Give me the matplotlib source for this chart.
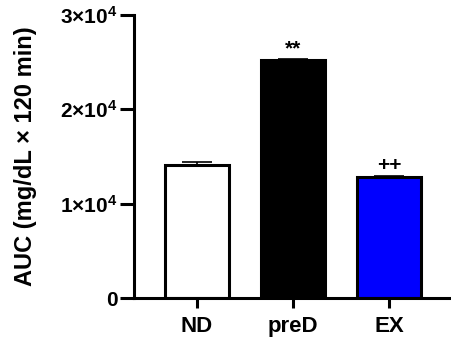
import matplotlib
matplotlib.use("Agg")
import matplotlib.pyplot as plt

plt.rcParams['font.family'] = ['Liberation Sans', 'DejaVu Sans']
plt.rcParams['font.weight'] = 'bold'
plt.rcParams['mathtext.fontset'] = 'custom'
plt.rcParams['mathtext.rm'] = 'Liberation Sans:bold'
plt.rcParams['mathtext.bf'] = 'Liberation Sans:bold'
plt.rcParams['mathtext.it'] = 'Liberation Sans:bold'
plt.rcParams['mathtext.default'] = 'bf'

categories = ["ND", "preD", "EX"]
values = [14100, 25200, 12800]
errors = [300, 100, 120]
bar_colors = ["#FFFFFF", "#000000", "#0000FF"]
annotations = ["", "**", "++"]
yticks = [0, 10000, 20000, 30000]
ytick_labels = ["0", "1×10$^{4}$", "2×10$^{4}$", "3×10$^{4}$"]
ylabel = "AUC (mg/dL × 120 min)"

fig = plt.figure(figsize=(4.52, 3.40), dpi=100)
ax = fig.add_axes([134/452, 42/340, 316/452, 283/340])

x = list(range(len(categories)))
ax.bar(x, values, width=0.66, color=bar_colors, edgecolor="black", linewidth=2.2, zorder=2)
ax.errorbar(x, values, yerr=[[0]*len(values), errors], fmt="none", ecolor="black",
            elinewidth=1.2, capsize=11, capthick=1.2, zorder=3)
for xi, v, e, a in zip(x, values, errors, annotations):
    if a:
        ax.text(xi, v + e + 150, a, ha="center", va="bottom", fontsize=15, fontweight="bold")

ax.set_xlim(-0.656, 2.635)
ax.set_ylim(0, 30000)
ax.set_xticks(x)
ax.set_xticklabels(categories, fontsize=16, fontweight="bold")
ax.set_yticks(yticks)
ax.set_yticklabels(ytick_labels, fontsize=15, fontweight="bold")
ax.set_ylabel(ylabel, fontsize=17, fontweight="bold")
ax.yaxis.set_label_coords(-0.307, 0.5)

for s in ["top", "right"]:
    ax.spines[s].set_visible(False)
for s in ["left", "bottom"]:
    ax.spines[s].set_linewidth(2.2)
    ax.spines[s].set_capstyle("projecting")
ax.tick_params(axis="y", length=10, width=2.2, pad=2)
ax.tick_params(axis="x", length=7, width=2.2, pad=6)

fig.savefig("out.png", dpi=100)
